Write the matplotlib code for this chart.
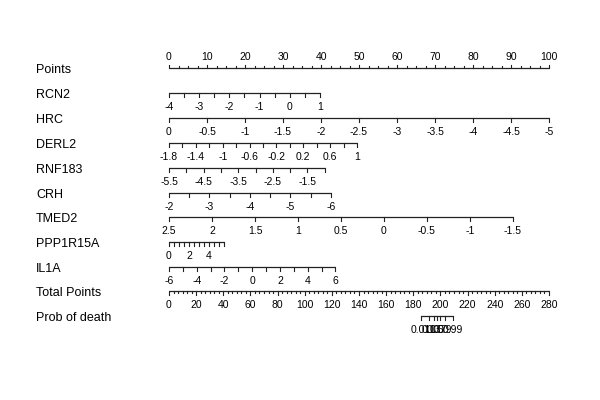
import numpy as np
import matplotlib
matplotlib.use("Agg")
import matplotlib.pyplot as plt

plt.rcParams['font.family'] = ['Liberation Sans', 'DejaVu Sans']

# variable names, in row order
names = ['RCN2', 'HRC', 'DERL2', 'RNF183', 'CRH', 'TMED2', 'PPP1R15A', 'IL1A']

# value at 0 points, value at the far end, points at the far end
val_lo = [-4, 0, -1.8, -5.5, -2, 2.5, 0, -6]
val_hi = [1, -5, 1, -1, -6, -1.5, 5.5, 6]
pts_hi = [39.7, 100, 49.5, 41.0, 42.6, 90.5, 14.5, 43.8]

# tick marks and labelled values for each variable
ticks = [
    [-4, -3.5, -3, -2.5, -2, -1.5, -1, -0.5, 0, 0.5, 1],
    [0, -0.5, -1, -1.5, -2, -2.5, -3, -3.5, -4, -4.5, -5],
    [-1.8, -1.6, -1.4, -1.2, -1, -0.8, -0.6, -0.4, -0.2, 0, 0.2, 0.4, 0.6, 0.8, 1],
    [-5.5, -5, -4.5, -4, -3.5, -3, -2.5, -2, -1.5, -1],
    [-2, -2.5, -3, -3.5, -4, -4.5, -5, -5.5, -6],
    [2.5, 2, 1.5, 1, 0.5, 0, -0.5, -1, -1.5],
    [0, 0.5, 1, 1.5, 2, 2.5, 3, 3.5, 4, 4.5, 5, 5.5],
    [-6, -5, -4, -3, -2, -1, 0, 1, 2, 3, 4, 5, 6],
]
labels = [
    ['-4', '-3', '-2', '-1', '0', '1'],
    ['0', '-0.5', '-1', '-1.5', '-2', '-2.5', '-3', '-3.5', '-4', '-4.5', '-5'],
    ['-1.8', '-1.4', '-1', '-0.6', '-0.2', '0.2', '0.6', '1'],
    ['-5.5', '-4.5', '-3.5', '-2.5', '-1.5'],
    ['-2', '-3', '-4', '-5', '-6'],
    ['2.5', '2', '1.5', '1', '0.5', '0', '-0.5', '-1', '-1.5'],
    ['0', '2', '4'],
    ['-6', '-4', '-2', '0', '2', '4', '6'],
]

points_labels = [0, 10, 20, 30, 40, 50, 60, 70, 80, 90, 100]
total_labels = [0, 20, 40, 60, 80, 100, 120, 140, 160, 180, 200, 220, 240, 260, 280]
total_max = 280

# probability scale: logistic on total points
prob_at = [0.01, 0.1, 0.3, 0.5, 0.7, 0.9, 0.99]
lp_mid = 197.5     # total points at prob 0.5
lp_slope = 0.389   # logit per total point

# layout (pixel rows)
row_y = [94, 119, 144, 169, 194, 218, 243, 268]
points_y = 69
total_y = 292
prob_y = 317

fig = plt.figure(figsize=(6, 4), dpi=100)
ax = fig.add_axes([0, 0, 1, 1])
ax.set_xlim(-169 / 3.8, (600 - 169) / 3.8)
ax.set_ylim(400, 0)
ax.axis('off')

lab_fs = 9
tick_fs = 7.5
tick_len = 3.5
lc = '#222222'
name_x = 36 / 3.8 - 169 / 3.8


def draw_axis(xs_tick, xs_lab, labs, y, up=False, minor_len=None):
    ly = y - 1
    ax.plot([min(xs_tick), max(xs_tick)], [ly, ly], color=lc, lw=0.9,
            solid_capstyle='butt')
    d = -tick_len if up else tick_len
    for x in xs_tick:
        ax.plot([x, x], [ly, ly + (minor_len if minor_len and x not in xs_lab else d)],
                color=lc, lw=0.8)
    for x, t in zip(xs_lab, labs):
        ty = ly - 11 if up else ly + 14
        ax.text(x, ty, t, ha='center', va='center', fontsize=tick_fs, color='black')


# Points row
ax.text(name_x, points_y + 1, 'Points', fontsize=lab_fs, va='center', ha='left')
pt_ticks = list(np.arange(0, 100.01, 2.5))
draw_axis(pt_ticks, points_labels, [str(p) for p in points_labels], points_y,
          up=True, minor_len=-2)

# variable rows
for i, name in enumerate(names):
    y = row_y[i]
    ax.text(name_x, y + 1, name, fontsize=lab_fs, va='center', ha='left')
    scale = pts_hi[i] / (val_hi[i] - val_lo[i])
    xt = [(v - val_lo[i]) * scale for v in ticks[i]]
    xl = [(float(s) - val_lo[i]) * scale for s in labels[i]]
    draw_axis(xt, xl, labels[i], y)

# Total points row
tp_to_pts = 100 / total_max
ax.text(name_x, total_y + 1, 'Total Points', fontsize=lab_fs, va='center', ha='left')
tp_ticks = [t * tp_to_pts for t in np.arange(0, total_max + 0.01, 10 / 3)]
tp_labs = [t * tp_to_pts for t in total_labels]
draw_axis(tp_ticks, tp_labs, [str(t) for t in total_labels], total_y, minor_len=2)

# Prob row
ax.text(name_x, prob_y + 1, 'Prob of death', fontsize=lab_fs, va='center', ha='left')
p = np.array(prob_at)
tp_at = lp_mid + np.log(p / (1 - p)) / lp_slope
xs = list(tp_at * tp_to_pts)
draw_axis(xs, xs, ['%g' % v for v in prob_at], prob_y)

fig.savefig('out.png', dpi=100)
